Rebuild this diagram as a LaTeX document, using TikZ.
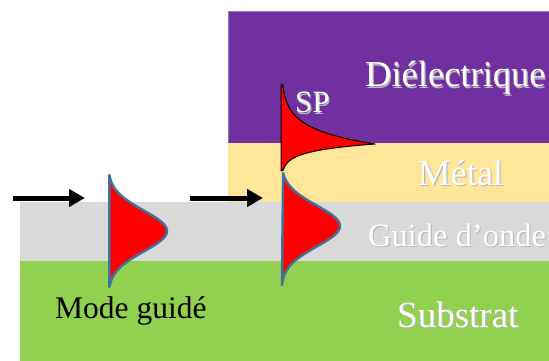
\documentclass[tikz,border=0pt]{standalone}
\usepackage{fontspec}
\setmainfont{Liberation Serif}
\usetikzlibrary{arrows.meta}
\definecolor{dielec}{HTML}{7030A0}
\definecolor{dielecedge}{HTML}{9B72C2}
\definecolor{metal}{HTML}{FFE699}
\definecolor{guide}{HTML}{D9D9D9}
\definecolor{subst}{HTML}{92D050}
\definecolor{modeline}{HTML}{41719C}
\newcommand\shtext[1]{\makebox[0pt][l]{\hspace{1.2pt}\raisebox{-1.2pt}{\textcolor{black!28}{#1}}}#1}
\begin{document}
\begin{tikzpicture}[x=1pt,y=-1pt,
  lbl/.style={inner sep=0pt, anchor=base west, text=white},
  flow/.style={line width=5pt, -{Triangle[length=16pt,width=17pt]}},
  gmode/.style={fill=red, draw=modeline, line width=2.4pt, line join=round},
  spmode/.style={fill=red, draw=black, line width=1pt, line join=round}]
\useasboundingbox (0,0) rectangle (549,361);
% layers
\fill[subst] (20,261) rectangle (549,361);
\fill[guide] (20,202) rectangle (549,261);
\fill[metal] (228,143) rectangle (549,202);
\fill[dielec] (228,11) rectangle (549,143);
\draw[dielecedge, line width=0.6pt] (228.3,143) -- (228.3,11.3) -- (549,11.3);
% labels
\node[lbl, font=\fontsize{36.5}{40}\selectfont] (diel) at (365,87) {\shtext{Diélectrique}};
\node[lbl, font=\fontsize{36.5}{40}\selectfont] (met) at (418,185) {\shtext{Métal}};
\node[lbl, font=\fontsize{32.5}{36}\selectfont] (gui) at (368,246) {\shtext{Guide d’onde}};
\node[lbl, font=\fontsize{37}{40}\selectfont] (sub) at (397,327) {\shtext{Substrat}};
\node[lbl, text=black, font=\fontsize{31.5}{36}\selectfont] (mg) at (55,318) {Mode guidé};
% arrows
\coordinate (a1s) at (13,198);
\coordinate (a1e) at (85,198);
\coordinate (a2s) at (190,198);
\coordinate (a2e) at (263,198);
\draw[flow] (a1s) -- (a1e);
\draw[flow] (a2s) -- (a2e);
% guided modes
\draw[gmode] plot[domain=175:287, samples=90, smooth] ({108+59*exp(-((\x-231)/29)^2)},\x) -- cycle;
\draw[gmode] plot[domain=173:285, samples=90, smooth] ({281+59*exp(-((\x-226)/29)^2)},\x) -- cycle;
% surface plasmon
\draw[spmode] plot[domain=85:144, samples=60, smooth] ({281+94*exp(-(144-\x)/15)},\x)
  -- plot[domain=144:170, samples=40, smooth] ({281+94*exp(-(\x-144)/7)},\x)
  -- (281,171) -- (281,85) -- cycle;
\node[lbl, font=\fontsize{31}{36}\selectfont] (sp) at (295,113) {\shtext{SP}};
\end{tikzpicture}
\end{document}
